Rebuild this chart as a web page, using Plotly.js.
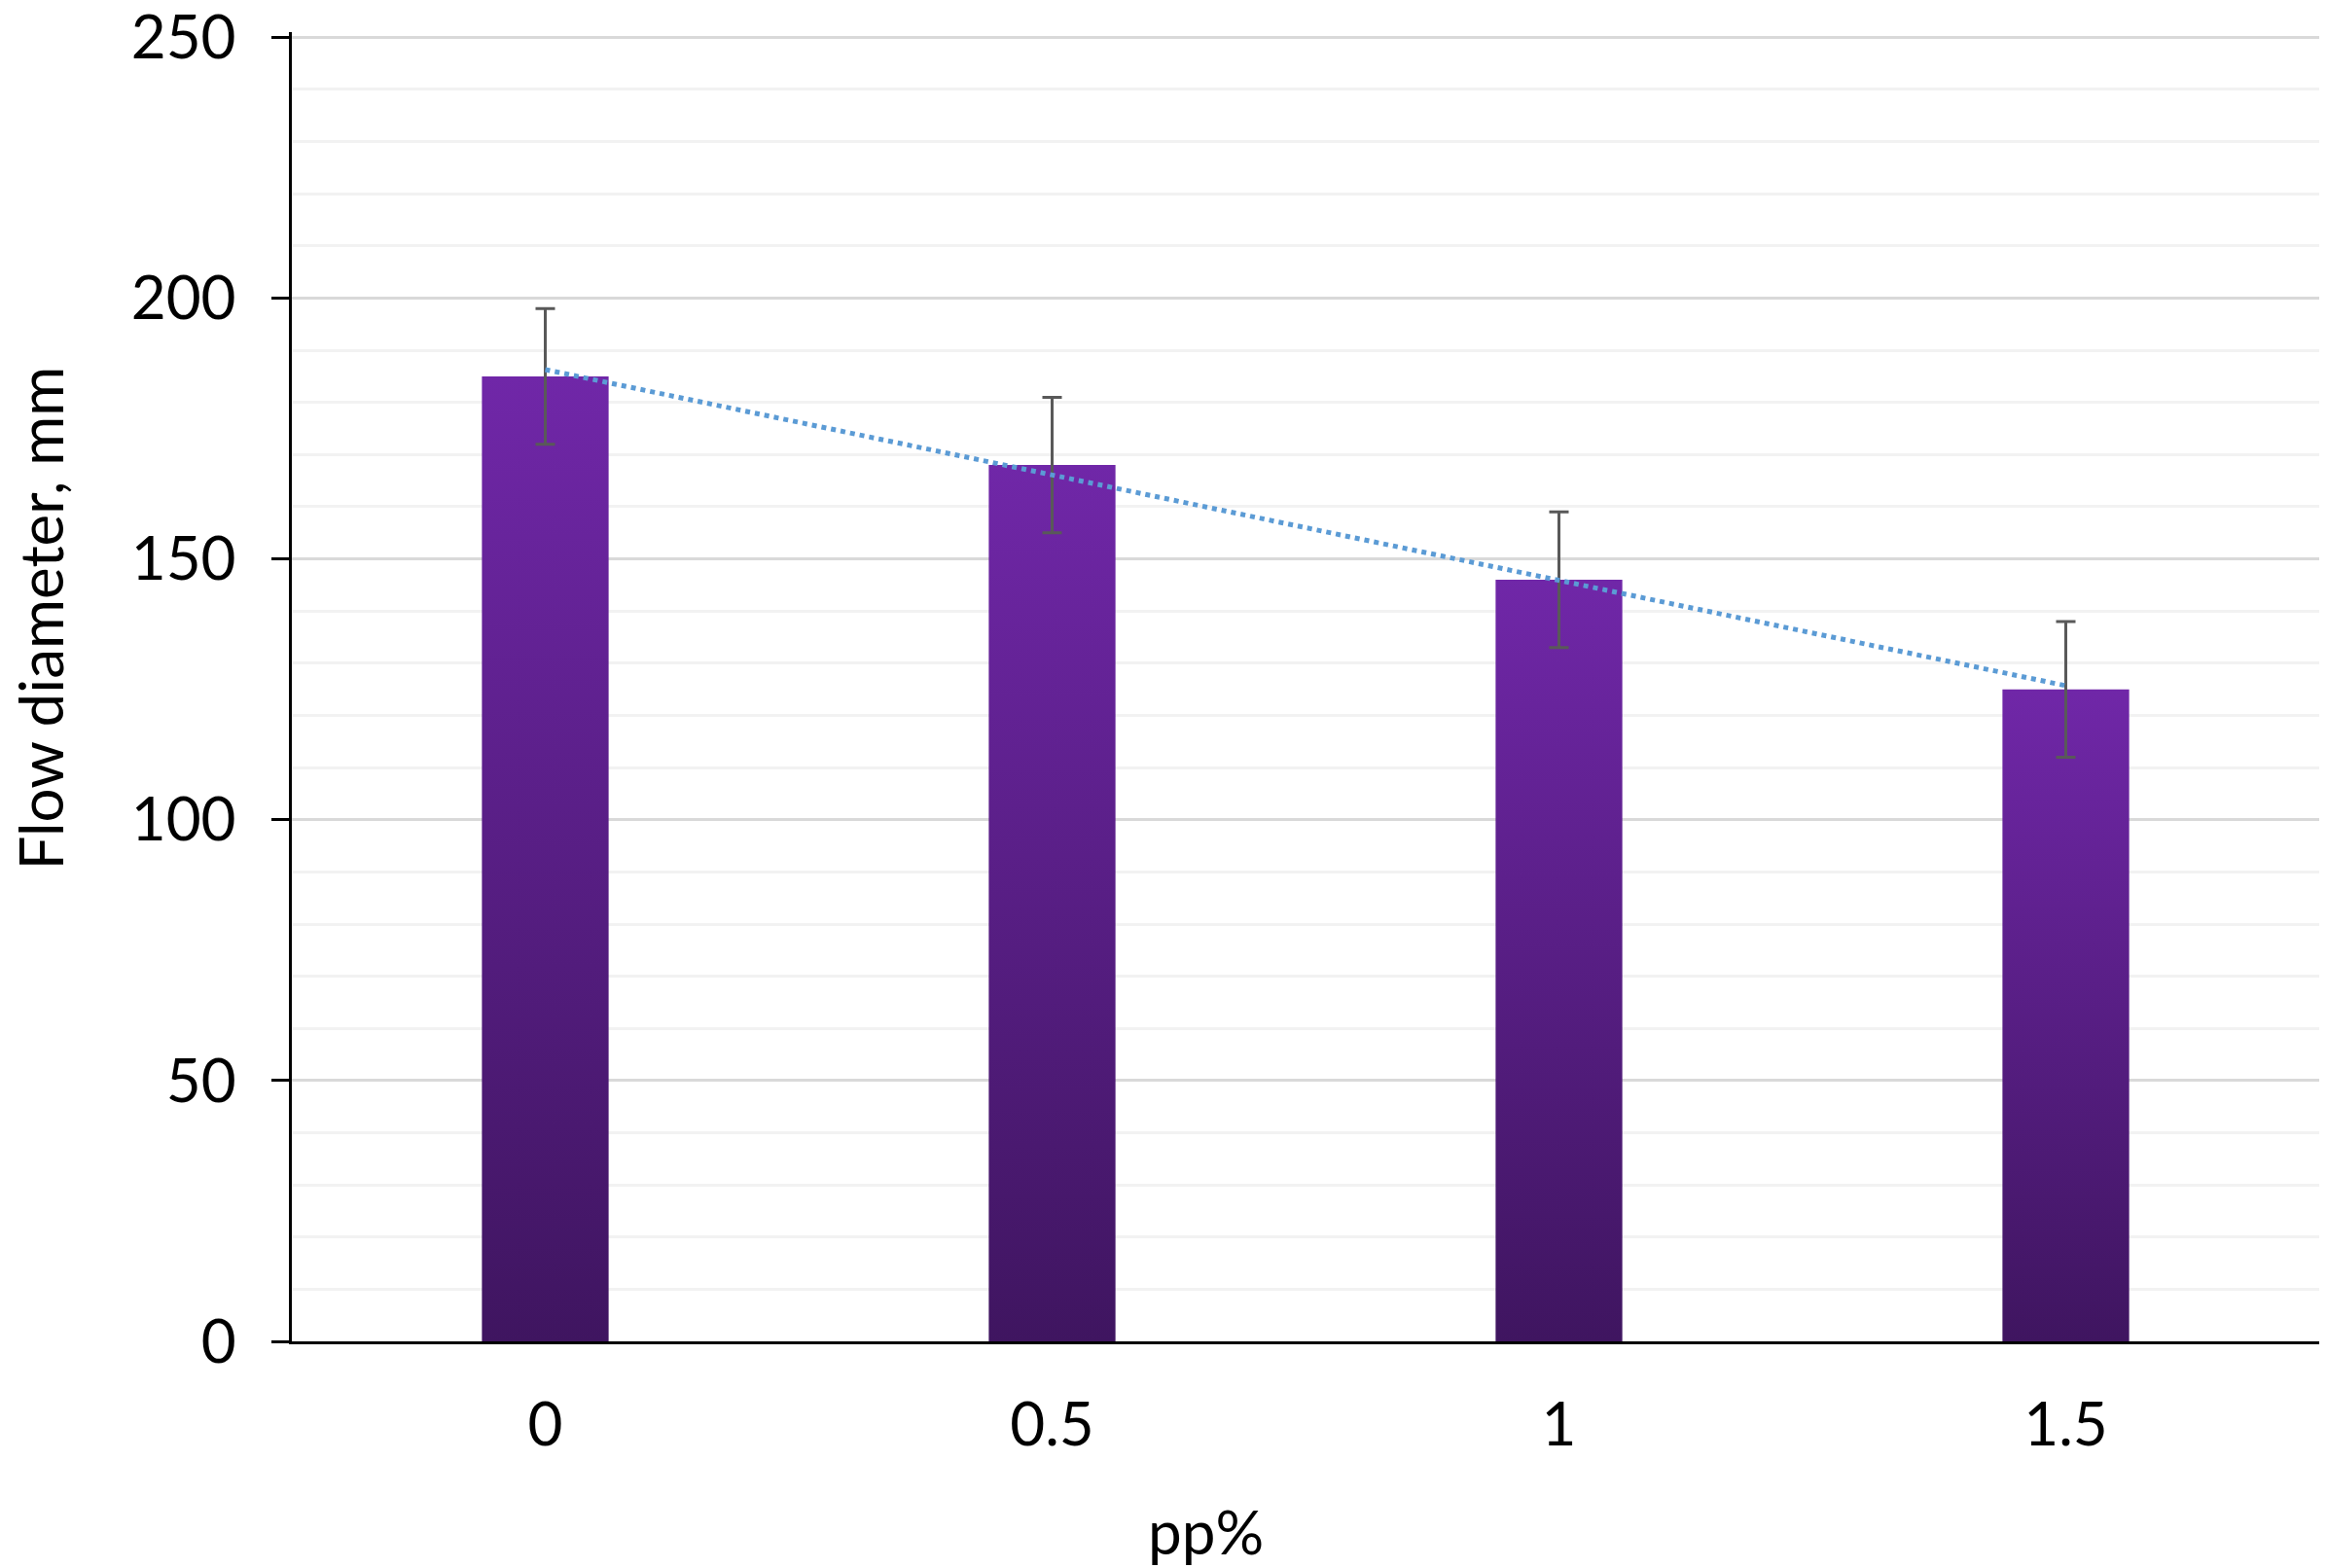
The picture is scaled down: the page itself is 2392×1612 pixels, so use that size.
<!DOCTYPE html>
<html>
<head>
<meta charset="utf-8">
<script src="https://cdn.plot.ly/plotly-3.0.1.min.js"></script>
<style>
  html, body { margin: 0; padding: 0; background: #fff; }
  #chart { width: 2392px; height: 1612px; }
</style>
</head>
<body>
<div id="chart"></div>
<script>
// pp% content on the x axis, flow diameter (mm) on the y axis
const categories = ['0', '0.5', '1', '1.5'];
const flowDiameter = [185, 168, 146, 125];
const flowError = [13, 13, 13, 13];
const yTicks = [0, 50, 100, 150, 200, 250];

// Linear trendline (least squares over the category index), as the spreadsheet draws it
function linearFit(values) {
    const n = values.length;
    const xs = values.map((_, i) => i);
    const mx = xs.reduce((a, b) => a + b, 0) / n;
    const my = values.reduce((a, b) => a + b, 0) / n;
    let sxy = 0, sxx = 0;
    xs.forEach((x, i) => { sxy += (x - mx) * (values[i] - my); sxx += (x - mx) * (x - mx); });
    const slope = sxy / sxx;
    return x => my + slope * (x - mx);
}
const fit = linearFit(flowDiameter);
const last = categories.length - 1;

const FONT = 'Lato, "Open Sans", sans-serif';
const FS = 62;

const bars = {
    type: 'bar',
    x: categories,
    y: flowDiameter,
    width: 0.25,
    marker: { color: '#5a1f8a', line: { width: 0 } },
    error_y: { type: 'data', array: flowError, visible: true, color: '#595959', thickness: 3, width: 10 },
    hoverinfo: 'skip'
};

const trend = {
    type: 'scatter',
    mode: 'lines',
    x: [categories[0], categories[last]],
    y: [fit(0), fit(last)],
    line: { color: '#5B9BD5', width: 5, dash: 'dot' },
    hoverinfo: 'skip'
};

const layout = {
    width: 2392,
    height: 1612,
    margin: { l: 300, r: 8, t: 33, b: 233 },
    paper_bgcolor: '#fff',
    plot_bgcolor: '#fff',
    showlegend: false,
    font: { family: FONT, size: FS, color: '#000' },
    xaxis: {
        type: 'category',
        range: [-0.5, 3.5],
        showgrid: false,
        showline: true,
        linecolor: '#000',
        linewidth: 3,
        ticks: '',
        ticklabelstandoff: 30,
        tickfont: { family: FONT, size: FS, color: '#000' },
        zeroline: false
    },
    yaxis: {
        range: [0, 251],
        tickvals: yTicks,
        showline: true,
        linecolor: '#000',
        linewidth: 3,
        ticks: 'outside',
        ticklen: 18,
        tickwidth: 3,
        tickcolor: '#000',
        ticklabelstandoff: 24,
        ticklabeloverflow: 'allow',
        tickfont: { family: FONT, size: FS, color: '#000' },
        showgrid: true,
        gridcolor: '#D9D9D9',
        gridwidth: 3,
        zeroline: false,
        minor: { dtick: 10, showgrid: true, gridcolor: '#F2F2F2', gridwidth: 3, ticks: '' }
    },
    annotations: [
        {
            text: 'Flow diameter, mm', textangle: -90,
            xref: 'paper', yref: 'paper', x: -0.1245, y: 0.552,
            xanchor: 'center', yanchor: 'middle', showarrow: false,
            font: { family: FONT, size: FS, color: '#000' }
        },
        {
            text: 'pp%',
            xref: 'paper', yref: 'paper', x: 0.451, y: -0.145,
            xanchor: 'center', yanchor: 'middle', showarrow: false,
            font: { family: FONT, size: FS, color: '#000' }
        }
    ]
};

// Vertical purple gradient on each bar (light at top, dark at bottom)
function applyGradient(gd) {
    const svg = gd.querySelector('svg.main-svg');
    if (!svg) return;
    const ns = 'http://www.w3.org/2000/svg';
    let defs = svg.querySelector('defs');
    if (!defs) { defs = document.createElementNS(ns, 'defs'); svg.insertBefore(defs, svg.firstChild); }
    if (!defs.querySelector('#barGrad')) {
        const grad = document.createElementNS(ns, 'linearGradient');
        grad.setAttribute('id', 'barGrad');
        grad.setAttribute('x1', '0'); grad.setAttribute('y1', '0');
        grad.setAttribute('x2', '0'); grad.setAttribute('y2', '1');
        [['0', '#7027A8'], ['1', '#3F1560']].forEach(([off, col]) => {
            const stop = document.createElementNS(ns, 'stop');
            stop.setAttribute('offset', off);
            stop.setAttribute('stop-color', col);
            grad.appendChild(stop);
        });
        defs.appendChild(grad);
    }
    gd.querySelectorAll('.barlayer .bars path').forEach(p => { p.style.fill = 'url(#barGrad)'; });
}

Plotly.newPlot('chart', [bars, trend], layout, { staticPlot: true }).then(applyGradient);
</script>
</body>
</html>
